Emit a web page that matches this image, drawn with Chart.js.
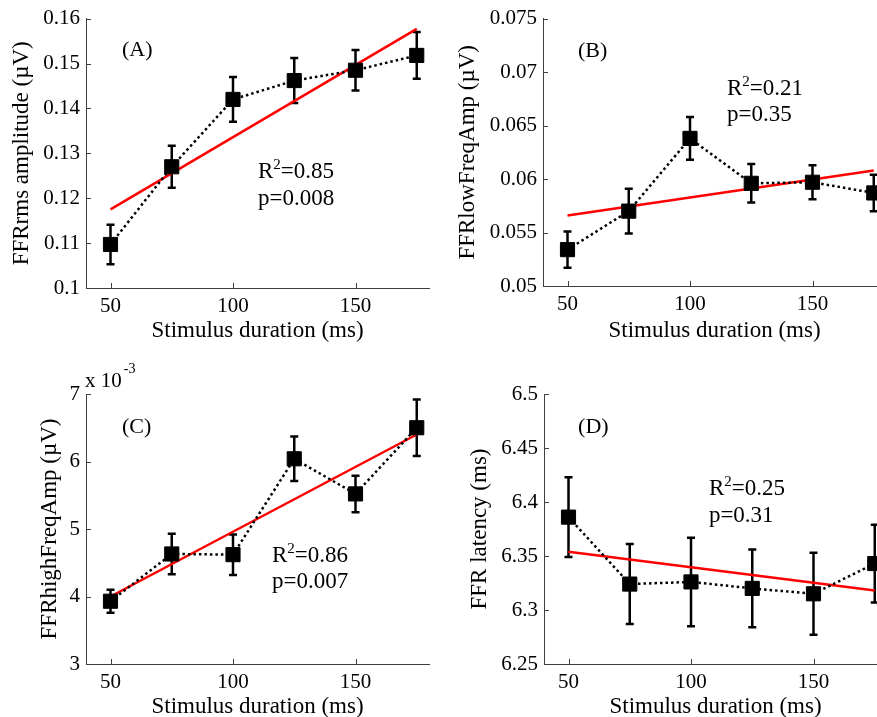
<!DOCTYPE html>
<html><head><meta charset="utf-8">
<script src="https://cdn.jsdelivr.net/npm/chart.js@4"></script>
<style>
html,body{margin:0;padding:0;width:877px;height:717px;overflow:hidden;background:#fff;}
canvas{position:absolute;}
</style></head><body>
<canvas id="cA" width="440" height="358" style="left:0;top:0"></canvas>
<canvas id="cB" width="460" height="358" style="left:440px;top:0"></canvas>
<canvas id="cC" width="440" height="359" style="left:0;top:358px"></canvas>
<canvas id="cD" width="460" height="359" style="left:440px;top:358px"></canvas>
<script>
// ---------- data ----------
const durations = [50, 75, 100, 125, 150, 175];
const fitX = [50, 175];
const xTicks = [50, 100, 150];
const xTickLabels = ['50', '100', '150'];

const rmsMean = [0.1097, 0.1270, 0.1420, 0.1462, 0.1485, 0.1518];
const rmsErr  = [0.0044, 0.0047, 0.0050, 0.0050, 0.0045, 0.0052];
const rmsFit  = [0.1175, 0.1577];
const rmsTicks = [0.10, 0.11, 0.12, 0.13, 0.14, 0.15, 0.16];
const rmsTickLabels = ['0.1', '0.11', '0.12', '0.13', '0.14', '0.15', '0.16'];

const lowMean = [0.0534, 0.0570, 0.0638, 0.0596, 0.0597, 0.0587];
const lowErr  = [0.0017, 0.0021, 0.0020, 0.0018, 0.0016, 0.0017];
const lowFit  = [0.0566, 0.0608];
const lowTicks = [0.050, 0.055, 0.060, 0.065, 0.070, 0.075];
const lowTickLabels = ['0.05', '0.055', '0.06', '0.065', '0.07', '0.075'];

const highMean = [3.93, 4.63, 4.62, 6.04, 5.52, 6.50];   // x 10^-3
const highErr  = [0.17, 0.30, 0.30, 0.33, 0.27, 0.42];
const highFit  = [4.00, 6.40];
const highTicks = [3, 4, 5, 6, 7];
const highTickLabels = ['3', '4', '5', '6', '7'];

const latMean = [6.386, 6.324, 6.326, 6.320, 6.315, 6.343];
const latErr  = [0.037, 0.037, 0.041, 0.036, 0.038, 0.036];
const latFit  = [6.354, 6.318];
const latTicks = [6.25, 6.30, 6.35, 6.40, 6.45, 6.50];
const latTickLabels = ['6.25', '6.3', '6.35', '6.4', '6.45', '6.5'];

// ---------- panels ----------
const FONT = '"Liberation Serif", "Times New Roman", serif';
const TITLE_SIZE = 23, TICK_SIZE = 21, NOTE_SIZE = 23, LABEL_SIZE = 22;

const panels = [
  {id:'cA', mean:rmsMean, err:rmsErr, fit:rmsFit, yTicks:rmsTicks, yLabels:rmsTickLabels,
   yMin:0.10, yMax:0.16, yTitle:'FFRrms amplitude (\u00B5V)',
   area:{l:86,t:17,r:429,b:288}, tcx:22, tcy:330.5,
   tag:{text:'(A)', x:54.7, y:0.1516}, r2:{text:'0.85', x:110.2, y:0.1244}, p:{text:'p=0.008', y:0.1184}},
  {id:'cB', mean:lowMean, err:lowErr, fit:lowFit, yTicks:lowTicks, yLabels:lowTickLabels,
   yMin:0.05, yMax:0.075, yTitle:'FFRlowFreqAmp (\u00B5V)',
   area:{l:103,t:16,r:446,b:286}, tcx:28, tcy:330.5,
   tag:{text:'(B)', x:54.3, y:0.0714}, r2:{text:'0.21', x:115.1, y:0.06787}, p:{text:'p=0.35', y:0.06546}},
  {id:'cC', mean:highMean, err:highErr, fit:highFit, yTicks:highTicks, yLabels:highTickLabels,
   yMin:3, yMax:7, yTitle:'FFRhighFreqAmp (\u00B5V)', exp:true,
   area:{l:86,t:36,r:429,b:306}, tcx:50, tcy:348.5,
   tag:{text:'(C)', x:54.7, y:6.422}, r2:{text:'0.86', x:115.9, y:4.511}, p:{text:'p=0.007', y:4.126}},
  {id:'cD', mean:latMean, err:latErr, fit:latFit, yTicks:latTicks, yLabels:latTickLabels,
   yMin:6.25, yMax:6.5, yTitle:'FFR latency (ms)',
   area:{l:104,t:36,r:447,b:306}, tcx:40, tcy:348.5,
   tag:{text:'(D)', x:53.9, y:6.4639}, r2:{text:'0.25', x:107.3, y:6.4065}, p:{text:'p=0.31', y:6.3815}}
];

function makeDecor(P) {
  return {
    id: 'decor_' + P.id,
    beforeDatasetsDraw(chart) {
      const {ctx, scales:{x, y}} = chart;
      ctx.save();
      ctx.strokeStyle = '#000'; ctx.lineWidth = 2.5;
      P.mean.forEach((m, i) => {
        const px = x.getPixelForValue(durations[i]);
        const t = y.getPixelForValue(m + P.err[i]);
        const b = y.getPixelForValue(m - P.err[i]);
        ctx.beginPath();
        ctx.moveTo(px, t); ctx.lineTo(px, b);
        ctx.moveTo(px - 4, t); ctx.lineTo(px + 4, t);
        ctx.moveTo(px - 4, b); ctx.lineTo(px + 4, b);
        ctx.stroke();
      });
      ctx.restore();
    },
    afterDraw(chart) {
      const {ctx, chartArea:a, scales:{x, y}} = chart;
      ctx.save();
      // inward tick marks
      ctx.strokeStyle = '#404040'; ctx.lineWidth = 1;
      ctx.beginPath();
      x.ticks.forEach(t => { const px = Math.round(x.getPixelForValue(t.value)) + 0.5; ctx.moveTo(px, a.bottom); ctx.lineTo(px, a.bottom - 5); });
      y.ticks.forEach(t => { const py = Math.round(y.getPixelForValue(t.value)) + 0.5; ctx.moveTo(a.left, py); ctx.lineTo(a.left + 5, py); });
      ctx.stroke();
      // annotations
      ctx.fillStyle = '#000';
      ctx.textBaseline = 'alphabetic'; ctx.textAlign = 'left';
      ctx.font = LABEL_SIZE + 'px ' + FONT;
      ctx.fillText(P.tag.text, x.getPixelForValue(P.tag.x), y.getPixelForValue(P.tag.y));
      const rx = x.getPixelForValue(P.r2.x), ry = y.getPixelForValue(P.r2.y);
      ctx.font = NOTE_SIZE + 'px ' + FONT;
      ctx.fillText('R', rx, ry);
      const wR = ctx.measureText('R').width;
      ctx.font = '15px ' + FONT;
      ctx.fillText('2', rx + wR, ry - 9);
      const w2 = ctx.measureText('2').width;
      ctx.font = NOTE_SIZE + 'px ' + FONT;
      ctx.fillText('=' + P.r2.text, rx + wR + w2, ry);
      ctx.fillText(P.p.text, rx, y.getPixelForValue(P.p.y));
      if (P.exp) {
        ctx.font = TICK_SIZE + 'px ' + FONT;
        ctx.fillText('x 10', a.left - 1, a.top - 7);
        const wx = ctx.measureText('x 10').width;
        ctx.font = '14px ' + FONT;
        ctx.fillText('-3', a.left + wx + 1, a.top - 21);
      }
      ctx.restore();
    }
  };
}

panels.forEach(P => {
  const cv = document.getElementById(P.id);
  const W = cv.width, H = cv.height, A = P.area;
  const lh = TITLE_SIZE * 1.2;
  const padLeft = P.tcx - lh / 2;
  const yW = A.l - padLeft;
  const xH = P.tcy + lh / 2 - A.b;
  const padBottom = H - A.b - xH;
  new Chart(cv, {
    type: 'scatter',
    data: {
      datasets: [
        {
          data: durations.map((d, i) => ({x: d, y: P.mean[i]})),
          showLine: true, borderColor: '#000', borderWidth: 2.5, borderDash: [2.5, 3],
          pointStyle: 'rect', pointRadius: 10, pointHoverRadius: 10,
          pointBackgroundColor: '#000', pointBorderColor: '#000', pointBorderWidth: 1,
          order: 1
        },
        {
          data: fitX.map((d, i) => ({x: d, y: P.fit[i]})),
          showLine: true, borderColor: '#ff0000', borderWidth: 2.5,
          pointRadius: 0, pointHoverRadius: 0, order: 2
        }
      ]
    },
    options: {
      responsive: false, animation: false, devicePixelRatio: 1,
      events: [],
      layout: {padding: {left: padLeft, top: A.t, right: W - A.r, bottom: padBottom}},
      plugins: {legend: {display: false}, tooltip: {enabled: false}},
      scales: {
        x: {
          type: 'linear', min: 40, max: 180,
          afterBuildTicks: s => { s.ticks = xTicks.map(v => ({value: v})); },
          afterFit: s => { s.height = xH; },
          grid: {display: true, drawOnChartArea: false, drawTicks: false},
          border: {display: true, color: '#404040', width: 1},
          ticks: {color: '#000', font: {family: FONT, size: TICK_SIZE}, padding: 6,
                  maxRotation: 0, autoSkip: false, callback: (v, i) => xTickLabels[i]},
          title: {display: true, text: 'Stimulus duration (ms)', color: '#000',
                  font: {family: FONT, size: TITLE_SIZE, lineHeight: 1.2}, padding: 0}
        },
        y: {
          type: 'linear', min: P.yMin, max: P.yMax,
          afterBuildTicks: s => { s.ticks = P.yTicks.map(v => ({value: v})); },
          afterFit: s => { s.width = yW; },
          grid: {display: true, drawOnChartArea: false, drawTicks: false},
          border: {display: true, color: '#404040', width: 1},
          ticks: {color: '#000', font: {family: FONT, size: TICK_SIZE}, padding: 6,
                  autoSkip: false, callback: (v, i) => P.yLabels[i]},
          title: {display: true, text: P.yTitle, color: '#000',
                  font: {family: FONT, size: TITLE_SIZE, lineHeight: 1.2}, padding: 0}
        }
      }
    },
    plugins: [makeDecor(P)]
  });
});
</script>
</body></html>
